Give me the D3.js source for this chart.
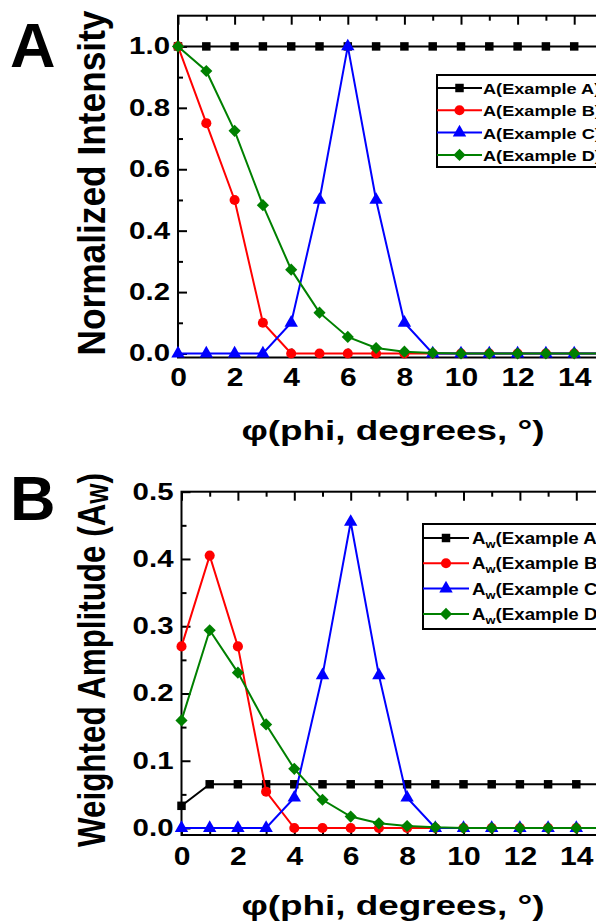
<!DOCTYPE html>
<html>
<head>
<meta charset="utf-8">
<script src="https://cdn.jsdelivr.net/npm/d3@7"></script>
<style>
  body { margin: 0; background: #fff; overflow: hidden; }
  svg text { font-family: "Liberation Sans", Arial, sans-serif; font-weight: bold; fill: #000; }
</style>
</head>
<body>
<svg id="chart"></svg>
<script>
// x values (phi, degrees)
const phi = [0, 1, 2, 3, 4, 5, 6, 7, 8, 9, 10, 11, 12, 13, 14, 15];

// Panel A: normalized intensity
const intensityA = [1, 1, 1, 1, 1, 1, 1, 1, 1, 1, 1, 1, 1, 1, 1, 1];
const intensityB = [1, 0.75, 0.5, 0.1, 0, 0, 0, 0, 0, 0, 0, 0, 0, 0, 0, 0];
const intensityC = [0, 0, 0, 0, 0.1, 0.5, 1, 0.5, 0.1, 0, 0, 0, 0, 0, 0, 0];
const intensityD = [1, 0.92, 0.725, 0.483, 0.273, 0.133, 0.054, 0.018, 0.006, 0.002, 0, 0, 0, 0, 0, 0];

// Panel B: weighted amplitude
const amplitudeA = [0.033, 0.065, 0.065, 0.065, 0.065, 0.065, 0.065, 0.065, 0.065, 0.065, 0.065, 0.065, 0.065, 0.065, 0.065, 0.065];
const amplitudeB = [0.27, 0.405, 0.27, 0.054, 0, 0, 0, 0, 0, 0, 0, 0, 0, 0, 0, 0];
const amplitudeC = [0, 0, 0, 0, 0.045, 0.227, 0.455, 0.227, 0.045, 0, 0, 0, 0, 0, 0, 0];
const amplitudeD = [0.16, 0.294, 0.231, 0.154, 0.088, 0.042, 0.017, 0.007, 0.003, 0.001, 0, 0, 0, 0, 0, 0];

const seriesLabels = ["Example A", "Example B", "Example C", "Example D"];

// ticks
const xTickValues = [0, 2, 4, 6, 8, 10, 12, 14];
const xMinorValues = [1, 3, 5, 7, 9, 11, 13, 15];
const yTicksA = [0, 0.2, 0.4, 0.6, 0.8, 1.0];
const yMinorA = [0.1, 0.3, 0.5, 0.7, 0.9];
const yTicksB = [0, 0.1, 0.2, 0.3, 0.4, 0.5];
const yMinorB = [0.05, 0.15, 0.25, 0.35, 0.45];

const colors = ["#000000", "#ff0000", "#0000ff", "#008000"];
const symbolTypes = [d3.symbolSquare, d3.symbolCircle, d3.symbolTriangle, d3.symbolSquare];
const symbolSizes = [72, 80, 78, 74];
const symbolRotate = [0, 0, 0, 45];

const svg = d3.select("#chart").attr("width", 596).attr("height", 922);

function drawPanel(opt) {
    const x = d3.scaleLinear().domain([0, 15]).range([opt.left, opt.right]);
    const y = d3.scaleLinear().domain(opt.yDomain).range([opt.bottom, opt.top]);
    const g = svg.append("g");

    // panel letter
    g.append("text")
        .attr("x", opt.letterX)
        .attr("y", opt.letterY)
        .style("font-size", "63px")
        .text(opt.letter);

    // inward ticks on all four sides
    const styleAxis = sel => {
        sel.select(".domain").remove();
        sel.selectAll("line").attr("stroke", "#000").attr("stroke-width", 2);
    };

    g.append("g").attr("transform", `translate(0,${opt.bottom})`)
        .call(d3.axisBottom(x).tickValues(xTickValues).tickSizeInner(-9).tickSizeOuter(0)
            .tickPadding(opt.xPad).tickFormat(d3.format("d")))
        .call(styleAxis)
        .call(a => a.selectAll("text")
            .style("font-size", "25px")
            .attr("transform", "scale(1.2,1)"));
    g.append("g").attr("transform", `translate(0,${opt.bottom})`)
        .call(d3.axisBottom(x).tickValues(xMinorValues).tickSize(-5).tickFormat(""))
        .call(styleAxis);
    g.append("g").attr("transform", `translate(0,${opt.top})`)
        .call(d3.axisTop(x).tickValues(xTickValues).tickSize(-9).tickFormat(""))
        .call(styleAxis);
    g.append("g").attr("transform", `translate(0,${opt.top})`)
        .call(d3.axisTop(x).tickValues(xMinorValues).tickSize(-5).tickFormat(""))
        .call(styleAxis);

    g.append("g").attr("transform", `translate(${opt.left},0)`)
        .call(d3.axisLeft(y).tickValues(opt.yTicks).tickSizeInner(-9).tickSizeOuter(0)
            .tickPadding(0).tickFormat(d3.format(".1f")))
        .call(styleAxis)
        .call(a => a.selectAll("text")
            .style("font-size", "23px")
            .attr("x", -8 / 1.28)
            .attr("transform", "scale(1.28,1)"));
    g.append("g").attr("transform", `translate(${opt.left},0)`)
        .call(d3.axisLeft(y).tickValues(opt.yMinor).tickSize(-5).tickFormat(""))
        .call(styleAxis);

    // frame
    g.append("rect")
        .attr("x", opt.left)
        .attr("y", opt.top)
        .attr("width", opt.right - opt.left)
        .attr("height", opt.bottom - opt.top)
        .attr("fill", "none")
        .attr("stroke", "#000")
        .attr("stroke-width", 2);

    // series
    const line = d3.line().x((d, i) => x(phi[i])).y(d => y(d));
    opt.series.forEach((values, k) => {
        g.append("path")
            .datum(values)
            .attr("d", line)
            .attr("fill", "none")
            .attr("stroke", colors[k])
            .attr("stroke-width", 2);
        g.selectAll(null)
            .data(values)
            .join("path")
            .attr("transform", (d, i) => `translate(${x(phi[i])},${y(d)}) rotate(${symbolRotate[k]})`)
            .attr("d", d3.symbol(symbolTypes[k], symbolSizes[k]))
            .attr("fill", colors[k]);
    });

    // legend
    const L = opt.legend;
    g.append("rect")
        .attr("x", L.x)
        .attr("y", L.y)
        .attr("width", 300)
        .attr("height", L.height)
        .attr("fill", "#fff")
        .attr("stroke", "#000")
        .attr("stroke-width", 2);
    seriesLabels.forEach((name, k) => {
        const ry = L.firstRow + k * L.rowGap;
        g.append("line")
            .attr("x1", L.x).attr("x2", L.x + L.lineLen)
            .attr("y1", ry).attr("y2", ry)
            .attr("stroke", colors[k]).attr("stroke-width", 2);
        g.append("path")
            .attr("transform", `translate(${L.x + L.lineLen / 2},${ry}) rotate(${symbolRotate[k]})`)
            .attr("d", d3.symbol(symbolTypes[k], symbolSizes[k]))
            .attr("fill", colors[k]);
        const t = g.append("text")
            .attr("transform", `translate(${L.textX},${ry + 6}) scale(1.17,1)`)
            .style("font-size", L.fontSize + "px");
        t.append("tspan").text("A");
        if (L.sub) {
            t.append("tspan").attr("dy", 4).style("font-size", "11px").text(L.sub);
            t.append("tspan").attr("dy", -4).text("(" + name + ")");
        } else {
            t.append("tspan").text("(" + name + ")");
        }
    });

    // x label
    g.append("text")
        .attr("x", opt.xLabelX)
        .attr("y", opt.xLabelY)
        .attr("text-anchor", "middle")
        .attr("textLength", 303)
        .attr("lengthAdjust", "spacingAndGlyphs")
        .style("font-size", "28px")
        .text("φ(phi, degrees, °)");

    // y label
    const yl = g.append("text")
        .attr("transform", `translate(105,${opt.yLabelY}) rotate(-90)`)
        .attr("text-anchor", "middle")
        .attr("textLength", opt.yLabelLen)
        .attr("lengthAdjust", "spacingAndGlyphs")
        .style("font-size", "38px");
    opt.yLabel(yl);
}

drawPanel({
    left: 178, right: 602.5, top: 15.7, bottom: 357.5,
    yDomain: [-0.013, 1.1],
    yTicks: yTicksA, yMinor: yMinorA,
    series: [intensityA, intensityB, intensityC, intensityD],
    letter: "A", letterX: 10, letterY: 67,
    xPad: 11, xLabelX: 393, xLabelY: 440,
    yLabelY: 183, yLabelLen: 345,
    yLabel: t => t.text("Normalized Intensity"),
    legend: { x: 437, y: 75, height: 92, firstRow: 88, rowGap: 22.3, lineLen: 45, textX: 483, fontSize: 15.5 }
});

drawPanel({
    left: 181.5, right: 604.5, top: 491.7, bottom: 835,
    yDomain: [-0.0104, 0.5],
    yTicks: yTicksB, yMinor: yMinorB,
    series: [amplitudeA, amplitudeB, amplitudeC, amplitudeD],
    letter: "B", letterX: 10, letterY: 520,
    xPad: 12, xLabelX: 393, xLabelY: 915,
    yLabelY: 660, yLabelLen: 374,
    yLabel: t => {
        t.append("tspan").text("Weighted Amplitude (A");
        t.append("tspan").attr("dy", 3).style("font-size", "26px").text("W");
        t.append("tspan").attr("dy", -3).text(")");
    },
    legend: { x: 423, y: 524, height: 105, firstRow: 538, rowGap: 25.3, lineLen: 46, textX: 472, fontSize: 16, sub: "w" }
});
</script>
</body>
</html>
